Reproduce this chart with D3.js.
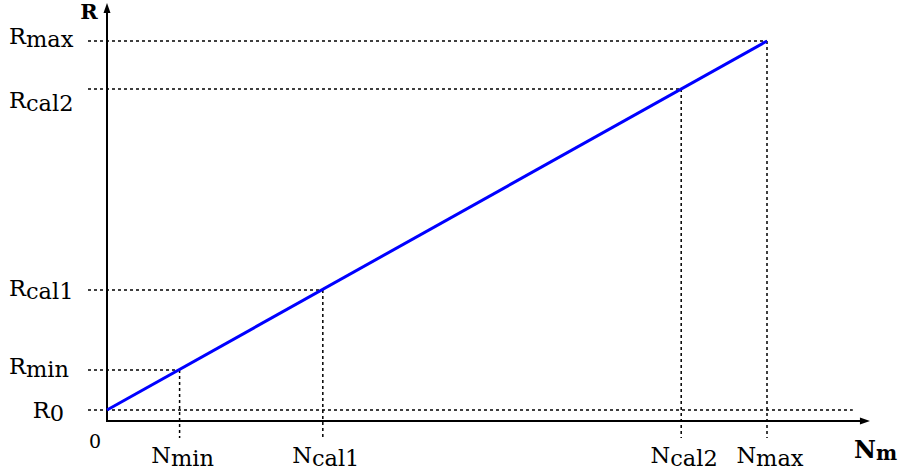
<!DOCTYPE html>
<html>
<head>
<meta charset="utf-8">
<script src="https://cdn.jsdelivr.net/npm/d3@7"></script>
<style>
  html, body { margin: 0; padding: 0; background: #fff; }
  svg { display: block; }
  text { font-family: "DejaVu Serif", serif; fill: #000; }
</style>
</head>
<body>
<svg id="chart" width="904" height="475"></svg>
<script>
// Calibration points on the N axis and their R readings (arbitrary units, Nmax = Rmax = 100)
const nSubs   = ["min", "cal1", "cal2", "max"];
const nValues = [11, 32.7, 87, 100];
const rSubs   = ["min", "cal1", "cal2", "max"];
const rValues = [13.4, 34.5, 87.4, 100];
// Offset of the line at N = 0
const r0Value = 2.9;
// Line end points: (0, R0) to (Nmax, Rmax)
const lineN = [0, 100];
const lineR = [2.9, 100];

const svg = d3.select("#chart");
const x = d3.scaleLinear().domain([0, 100]).range([107, 767]);
const y = d3.scaleLinear().domain([0, 100]).range([421, 41]);

const axisEndN = 115.6;   // x-axis arrow tip
const r0DashEndN = 113;   // R0 guide line length
const axisTopY = 3;       // y-axis arrow tip (px)

const dash = { "stroke": "#000", "stroke-width": 1.5, "stroke-dasharray": "3,3", "fill": "none" };
function styled(sel, st) { Object.entries(st).forEach(([k, v]) => sel.attr(k, v)); return sel; }

// Horizontal guides from the R labels to each point, vertical guides down past the axis
const pts = nValues.map((n, i) => ({ n, r: rValues[i] }));
pts.forEach(p => {
  styled(svg.append("line")
    .attr("x1", 88).attr("x2", x(p.n))
    .attr("y1", y(p.r)).attr("y2", y(p.r)), dash);
  styled(svg.append("line")
    .attr("x1", x(p.n)).attr("x2", x(p.n))
    .attr("y1", y(p.r)).attr("y2", 438), dash);
});
// R0 guide
styled(svg.append("line")
  .attr("x1", 88).attr("x2", x(r0DashEndN))
  .attr("y1", y(r0Value)).attr("y2", y(r0Value)), dash);

// Axes with arrow heads
svg.append("line").attr("x1", x(0)).attr("x2", x(axisEndN) - 6)
  .attr("y1", y(0)).attr("y2", y(0)).attr("stroke", "#000").attr("stroke-width", 2);
svg.append("line").attr("x1", x(0)).attr("x2", x(0))
  .attr("y1", y(0) + 1).attr("y2", axisTopY + 6).attr("stroke", "#000").attr("stroke-width", 2);
svg.append("path")
  .attr("d", `M${x(axisEndN)},${y(0)} l-10,-3.5 l0,7 z`).attr("fill", "#000");
svg.append("path")
  .attr("d", `M${x(0)},${axisTopY} l-3.5,10 l7,0 z`).attr("fill", "#000");

// Response line
svg.append("path")
  .datum(lineN.map((n, i) => [n, lineR[i]]))
  .attr("d", d3.line().x(d => x(d[0])).y(d => y(d[1])))
  .attr("stroke", "#0000ff").attr("stroke-width", 3).attr("fill", "none");

// Label with a subscript
function subLabel(px, py, sub, anchor, size) {
  const t = svg.append("text").attr("x", px).attr("y", py)
    .attr("text-anchor", anchor).style("font-size", size + "px");
  t.append("tspan").text(sub.base);
  t.append("tspan").attr("dy", 3).text(sub.sub);
  return t;
}

// R labels (left side)
const rBaseline = [4, 6, 19, 3];
rSubs.forEach((s, i) => {
  subLabel(9, y(rValues[i]) + rBaseline[i], { base: "R", sub: s }, "start", 22.5);
});
subLabel(64, y(r0Value) + 8, { base: "R", sub: "0" }, "end", 22.5);

// N labels (below axis)
nSubs.forEach((s, i) => {
  subLabel(x(nValues[i]) + 3, 463, { base: "N", sub: s }, "middle", 22.5);
});

// Origin
svg.append("text").attr("x", 95).attr("y", 448).attr("text-anchor", "middle")
  .style("font-size", "19px").text("0");

// Axis titles
svg.append("text").attr("x", 89).attr("y", 18.5).attr("text-anchor", "middle")
  .style("font-size", "21px").style("font-weight", "bold").text("R");
const nm = svg.append("text").attr("x", 854).attr("y", 458)
  .style("font-weight", "bold");
nm.append("tspan").style("font-size", "24px").text("N");
nm.append("tspan").attr("dy", 2).style("font-size", "20px").text("m");
</script>
</body>
</html>
